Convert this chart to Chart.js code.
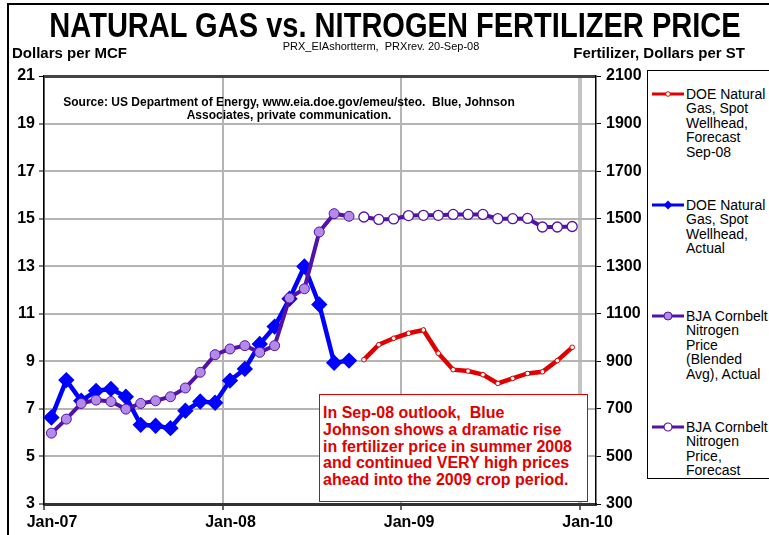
<!DOCTYPE html>
<html lang="en">
<head>
    <meta charset="UTF-8">
    <title>Natural Gas vs. Nitrogen Fertilizer Price</title>
    <script src="https://cdn.jsdelivr.net/npm/chart.js"></script>
    <style>
        body {
            margin: 0;
            background: #fff;
            font-family: Arial, "Liberation Sans", sans-serif;
        }
        #wrap {
            position: relative;
            width: 769px;
            height: 535px;
            overflow: hidden;
            background: #fff;
        }
        #frame {
            position: absolute;
            left: 7px;
            top: 3px;
            width: 900px;
            height: 700px;
            border-left: 2px solid #000;
            border-top: 2px solid #000;
        }
        canvas {
            position: absolute;
            left: 0;
            top: 0;
        }
        .txt {
            position: absolute;
            white-space: nowrap;
            color: #000;
        }
        #title {
            left: 395px;
            top: 7px;
            font-size: 35px;
            line-height: 35px;
            font-weight: bold;
            transform: translateX(-50%) scaleX(0.83);
        }
        #units-left {
            left: 12px;
            top: 44px;
            font-size: 15px;
            font-weight: bold;
        }
        #units-right {
            right: 24px;
            top: 44px;
            font-size: 15px;
            font-weight: bold;
        }
        #rev {
            left: 381px;
            top: 40px;
            font-size: 11px;
            transform: translateX(-50%);
        }
        #source {
            left: 289px;
            top: 96px;
            font-size: 12px;
            line-height: 13px;
            font-weight: bold;
            text-align: center;
            transform: translateX(-50%);
        }
        #note {
            position: absolute;
            left: 319px;
            top: 394px;
            width: 264px;
            height: 96px;
            padding: 10px 0 0 3px;
            background: #fff;
            border: 1.5px solid #e00000;
            color: #e00000;
            font-size: 16px;
            line-height: 16.8px;
            font-weight: bold;
            white-space: nowrap;
        }
        #legend {
            position: absolute;
            left: 647px;
            top: 70px;
            width: 160px;
            height: 407px;
            border: 1px solid #000;
            background: #fff;
        }
        .entry {
            position: absolute;
            left: 0;
        }
        .entry svg {
            position: absolute;
            left: 4px;
            top: 0;
        }
        .entry div {
            position: absolute;
            left: 38px;
            top: 0;
            font-size: 14px;
            line-height: 14.4px;
            white-space: nowrap;
        }
    </style>
</head>
<body>
<div id="wrap">
    <div id="frame"></div>
    <canvas id="gasChart" width="769" height="535"></canvas>

    <div id="title" class="txt">NATURAL GAS vs. NITROGEN FERTILIZER PRICE</div>
    <div id="units-left" class="txt">Dollars per MCF</div>
    <div id="rev" class="txt">PRX_EIAshortterm,&nbsp; PRXrev. 20-Sep-08</div>
    <div id="units-right" class="txt">Fertilizer, Dollars per ST</div>
    <div id="source" class="txt">Source: US Department of Energy, www.eia.doe.gov/emeu/steo.&nbsp; Blue, Johnson<br>Associates, private communication.</div>

    <div id="note">In Sep-08 outlook,&nbsp; Blue<br>Johnson shows a dramatic rise<br>in fertilizer price in summer 2008<br>and continued VERY high prices<br>ahead into the 2009 crop period.</div>

    <div id="legend">
        <div class="entry" style="top:16px">
            <svg width="32" height="14" viewBox="0 0 32 14">
                <line x1="0" y1="7" x2="32" y2="7" stroke="#e00000" stroke-width="3"/>
                <circle cx="16" cy="7" r="2.3" fill="#fff" stroke="#e00000" stroke-width="1"/>
            </svg>
            <div>DOE Natural<br>Gas, Spot<br>Wellhead,<br>Forecast<br>Sep-08</div>
        </div>
        <div class="entry" style="top:127px">
            <svg width="32" height="14" viewBox="0 0 32 14">
                <line x1="0" y1="7" x2="32" y2="7" stroke="#0000ff" stroke-width="3"/>
                <polygon points="16,2.5 20.5,7 16,11.5 11.5,7" fill="#0000ff"/>
            </svg>
            <div>DOE Natural<br>Gas, Spot<br>Wellhead,<br>Actual</div>
        </div>
        <div class="entry" style="top:238px">
            <svg width="32" height="14" viewBox="0 0 32 14">
                <line x1="0" y1="7" x2="32" y2="7" stroke="#5212a8" stroke-width="3"/>
                <circle cx="16" cy="7" r="4" fill="#b48ae8" stroke="#5212a8" stroke-width="1"/>
            </svg>
            <div>BJA Cornbelt<br>Nitrogen<br>Price<br>(Blended<br>Avg), Actual</div>
        </div>
        <div class="entry" style="top:349px">
            <svg width="32" height="14" viewBox="0 0 32 14">
                <line x1="0" y1="7" x2="32" y2="7" stroke="#5212a8" stroke-width="3"/>
                <circle cx="16" cy="7" r="4" fill="#fff" stroke="#5212a8" stroke-width="1.2"/>
            </svg>
            <div>BJA Cornbelt<br>Nitrogen<br>Price,<br>Forecast</div>
        </div>
    </div>
</div>

<script>
    // months counted from Jan-07; actuals Jan-07..Sep-08, forecasts Oct-08..Dec-09
    const forecastStart = 21;
    const xTickValues = [0, 12, 24, 36];
    const xTickLabels = ["Jan-07", "Jan-08", "Jan-09", "Jan-10"];

    // natural gas, dollars per MCF (left axis)
    const gasActual = [6.64, 8.21, 7.34, 7.76, 7.84, 7.51, 6.33, 6.29, 6.19, 6.92, 7.31,
        7.26, 8.19, 8.68, 9.73, 10.46, 11.63, 12.99, 11.39, 8.94, 9.03];
    const gasForecast = [9.07, 9.70, 9.97, 10.18, 10.32, 9.34, 8.65, 8.59, 8.44, 8.07,
        8.28, 8.49, 8.56, 9.03, 9.59];

    // nitrogen fertilizer, dollars per short ton (right axis)
    const nitroActual = [598, 657, 723, 737, 731, 699, 723, 734, 751, 788, 854,
        928, 952, 966, 938, 966, 1166, 1205, 1444, 1521, 1510];
    const nitroForecast = [1507, 1497, 1499, 1513, 1514, 1514, 1518, 1518, 1518, 1500,
        1500, 1501, 1465, 1465, 1467];

    // points sit in the middle of their month
    function toPoints(values, start) {
        return values.map((v, i) => ({ x: start + i + 0.5, y: v }));
    }

    const purple = "#5212a8";
    const red = "#e00000";
    const blue = "#0000ff";
    const tickFont = { family: "Arial, 'Liberation Sans', sans-serif", size: 16, weight: "bold" };

    const ctx = document.getElementById("gasChart").getContext("2d");
    new Chart(ctx, {
        type: "line",
        data: {
            datasets: [
                {
                    label: "BJA Cornbelt Nitrogen Price (Blended Avg), Actual",
                    data: toPoints(nitroActual, 0),
                    yAxisID: "y1",
                    borderColor: purple,
                    borderWidth: 4,
                    pointRadius: 5,
                    pointBackgroundColor: "#b48ae8",
                    pointBorderColor: purple,
                    pointBorderWidth: 1
                },
                {
                    label: "BJA Cornbelt Nitrogen Price, Forecast",
                    data: toPoints(nitroForecast, forecastStart),
                    yAxisID: "y1",
                    borderColor: purple,
                    borderWidth: 4,
                    pointRadius: 5,
                    pointBackgroundColor: "#fff",
                    pointBorderColor: purple,
                    pointBorderWidth: 1.3
                },
                {
                    label: "DOE Natural Gas, Spot Wellhead, Actual",
                    data: toPoints(gasActual, 0),
                    yAxisID: "y",
                    borderColor: blue,
                    borderWidth: 4.5,
                    pointStyle: "rectRot",
                    pointRadius: 5,
                    pointBackgroundColor: blue,
                    pointBorderColor: blue
                },
                {
                    label: "DOE Natural Gas, Spot Wellhead, Forecast Sep-08",
                    data: toPoints(gasForecast, forecastStart),
                    yAxisID: "y",
                    borderColor: red,
                    borderWidth: 4.5,
                    pointRadius: 2.3,
                    pointBackgroundColor: "#fff",
                    pointBorderColor: red,
                    pointBorderWidth: 1
                }
            ]
        },
        options: {
            responsive: false,
            animation: false,
            layout: { padding: { top: 76, left: 0, right: 0, bottom: 0 } },
            plugins: {
                legend: { display: false },
                tooltip: { enabled: false }
            },
            scales: {
                x: {
                    type: "linear",
                    min: 0,
                    max: 37.1,
                    afterBuildTicks: scale => {
                        scale.ticks = xTickValues.map(v => ({ value: v }));
                    },
                    afterFit: scale => { scale.height = 31; },
                    ticks: {
                        font: tickFont,
                        color: "#000",
                        padding: 3,
                        labelOffset: 8,
                        maxRotation: 0,
                        callback: value => xTickLabels[xTickValues.indexOf(value)]
                    },
                    grid: {
                        color: ctx => ctx.tick && ctx.tick.value === 36 ? "#c4c4c4" : "#b4b4b4",
                        lineWidth: ctx => ctx.tick && ctx.tick.value === 36 ? 4 : 2,
                        tickLength: 6,
                        tickColor: "#333",
                        tickWidth: 1.5
                    },
                    border: { color: "#333", width: 3 }
                },
                y: {
                    position: "left",
                    min: 3,
                    max: 21,
                    afterFit: scale => { scale.width = 44; },
                    ticks: { stepSize: 2, font: tickFont, color: "#000", padding: 4,
                        callback: value => String(value) },
                    grid: {
                        color: ctx => ctx.tick && ctx.tick.value === 21 ? "#444" : "#b4b4b4",
                        lineWidth: ctx => ctx.tick && ctx.tick.value === 21 ? 3 : 2,
                        tickLength: 5,
                        tickColor: "#000",
                        tickWidth: 1
                    },
                    border: { color: "#000", width: 1.5 }
                },
                y1: {
                    position: "right",
                    min: 300,
                    max: 2100,
                    afterFit: scale => { scale.width = 173; },
                    ticks: { stepSize: 200, font: tickFont, color: "#000", padding: 5,
                        callback: value => String(value) },
                    grid: {
                        drawOnChartArea: false,
                        tickLength: 5,
                        tickColor: "#000",
                        tickWidth: 1
                    },
                    border: { color: "#000", width: 1.5 }
                }
            }
        }
    });
</script>
</body>
</html>
